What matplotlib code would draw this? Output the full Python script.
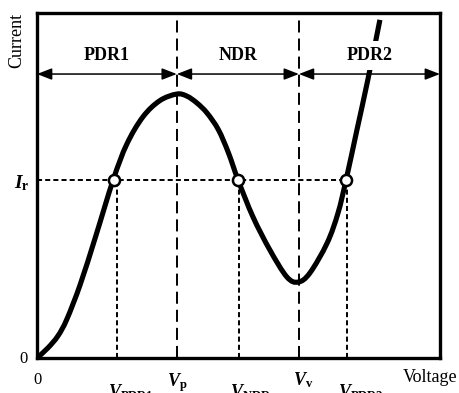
import matplotlib
matplotlib.use("Agg")
import matplotlib.pyplot as plt
from matplotlib.path import Path
from matplotlib.patches import PathPatch

plt.rcParams["font.family"] = ["Liberation Serif", "DejaVu Serif"]
plt.rcParams["mathtext.fontset"] = "custom"
plt.rcParams["mathtext.rm"] = "Liberation Serif"
plt.rcParams["mathtext.it"] = "Liberation Serif:italic:bold"
plt.rcParams["mathtext.bf"] = "Liberation Serif:bold"

# I-V curve (arbitrary units, axes 0..10)
volt = [0.00, 0.27, 0.52, 0.74, 1.07, 1.45, 1.89, 2.23, 2.63, 3.05, 3.47, 3.72,
        3.97, 4.22, 4.50, 4.75, 4.99, 5.36, 5.78, 6.20, 6.48, 6.77, 7.20, 7.47,
        7.67, 7.94, 8.21, 8.51]
curr = [0.00, 0.29, 0.64, 1.12, 2.12, 3.50, 5.16, 6.20, 6.99, 7.46, 7.65, 7.59,
        7.39, 7.10, 6.62, 5.95, 5.16, 4.09, 3.13, 2.35, 2.20, 2.46, 3.33, 4.20,
        5.16, 6.61, 8.06, 9.80]

# characteristic voltages / current
v_pdr1, v_p, v_ndr, v_v, v_pdr2 = 1.99, 3.47, 5.01, 6.50, 7.69
i_r = 5.16
op_volt = [1.90, 4.99, 7.67]          # operating points on the curve at I = Ir
regions = ["PDR1", "NDR", "PDR2"]
bounds = [0.0, v_p, v_v, 10.0]
arrow_y = 8.23


def smooth_path(xs, ys):
    # Catmull-Rom through the traced points, drawn as cubic Bezier segments
    pts = list(zip(xs, ys))
    verts, codes = [pts[0]], [Path.MOVETO]
    n = len(pts)
    for i in range(n - 1):
        p0 = pts[max(i - 1, 0)]
        p1 = pts[i]
        p2 = pts[i + 1]
        p3 = pts[min(i + 2, n - 1)]
        c1 = (p1[0] + (p2[0] - p0[0]) / 6, p1[1] + (p2[1] - p0[1]) / 6)
        c2 = (p2[0] - (p3[0] - p1[0]) / 6, p2[1] - (p3[1] - p1[1]) / 6)
        verts += [c1, c2, p2]
        codes += [Path.CURVE4] * 3
    return Path(verts, codes)


fig = plt.figure(figsize=(4.6, 3.93), dpi=100)
ax = fig.add_axes([0.0804, 0.0891, 0.876, 0.8779])
ax.set_xlim(0, 10)
ax.set_ylim(0, 10)
ax.set_xticks([])
ax.set_yticks([])
for sp in ax.spines.values():
    sp.set_linewidth(2.4)
    sp.set_zorder(6)

# guide lines
long_dash = (0, (6.2, 3.1))
short_dash = (0, (2.6, 1.6))
for v in [v_p, v_v]:
    ax.plot([v, v], [0, 10], color="black", lw=1.4, ls=long_dash, zorder=1)
for v in [v_pdr1, v_ndr, v_pdr2]:
    ax.plot([v, v], [0, i_r], color="black", lw=1.4, ls=short_dash, zorder=1)
ax.plot([0, v_pdr2], [i_r, i_r], color="black", lw=1.4, ls=short_dash, zorder=1)

# curve + operating points
ax.add_patch(PathPatch(smooth_path(volt, curr), fc="none", ec="black", lw=3.7,
                       capstyle="butt", zorder=2))
ax.plot(op_volt, [i_r] * len(op_volt), "o", ms=8, mfc="white", mec="black",
        mew=1.8, zorder=4)

# region arrows and labels
for k, name in enumerate(regions):
    a, b = bounds[k], bounds[k + 1]
    ax.annotate("", xy=(b, arrow_y), xytext=(a, arrow_y),
                arrowprops=dict(arrowstyle="<|-|>,head_length=0.9,head_width=0.35",
                                mutation_scale=10, lw=1.1, color="black",
                                shrinkA=0, shrinkB=0), zorder=3)
    bb = dict(fc="white", ec="none", pad=4) if name == "PDR2" else None
    ax.text((a + b) / 2, 8.77, name, ha="center", va="center", fontsize=13,
            fontweight="bold", bbox=bb, zorder=5)

# axis labels
fig.text(17 / 460, 1 - 13 / 393, "Current", rotation=90, ha="center", va="top",
         fontsize=13)
fig.text(430 / 460, 1 - 378 / 393, "Voltage", ha="center", va="center", fontsize=13)
fig.text(23 / 460, 1 - 359 / 393, "0", ha="center", va="center", fontsize=12)
fig.text(38 / 460, 1 - 380 / 393, "0", ha="center", va="center", fontsize=12)
fig.text(22 / 460, 1 - 183 / 393, r"$I_{\mathrm{\mathbf{r}}}$", ha="center",
         va="center", fontsize=14)

ax.text(v_p - 0.25, -0.037, r"$V_{\mathbf{p}}$", transform=ax.get_xaxis_transform(),
        ha="left", va="top", fontsize=13)
ax.text(v_v - 0.15, -0.035, r"$V_{\mathbf{v}}$", transform=ax.get_xaxis_transform(),
        ha="left", va="top", fontsize=13)
for v, lab in [(v_pdr1, "PDR1"), (v_ndr, "NDR"), (v_pdr2, "PDR2")]:
    ax.text(v - 0.22, -0.070, r"$V_{\mathbf{%s}}$" % lab,
            transform=ax.get_xaxis_transform(), ha="left", va="top", fontsize=13)

fig.savefig("out.png", dpi=100)
plt.close()
